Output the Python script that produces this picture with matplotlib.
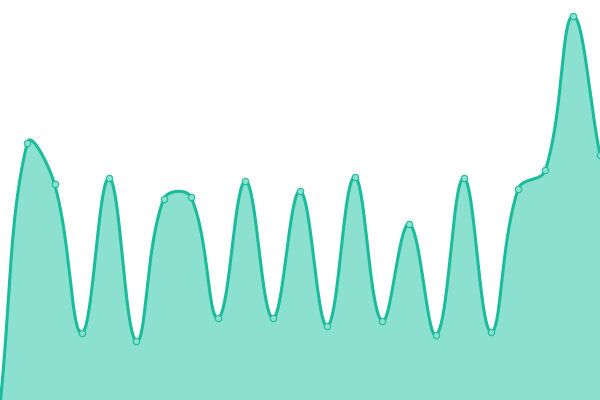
import numpy as np
import matplotlib
matplotlib.use("Agg")
import matplotlib.pyplot as plt

# Values (chart area is 400 units tall)
values = [-5, 257, 216, 67, 222, 59, 201, 203, 82, 219, 82, 209,
          74, 223, 79, 176, 65, 222, 68, 211, 230, 384, 245]
line_color = '#1abc9c'
fill_color = '#8be0cf'
tension = 0.4

W, H = 600, 400
x = np.arange(len(values))
y = np.array(values, dtype=float)

fig = plt.figure(figsize=(W / 100, H / 100), dpi=100)
ax = fig.add_axes([0, 0, 1, 1])
ax.set_xlim(0, len(values) - 1)
ax.set_ylim(0, 400)
ax.axis('off')

# spline control points worked out in pixel space (Chart.js style)
sx = W / (len(values) - 1)
px = x * sx
py = y
n = len(values)
prev_c = np.zeros((n, 2))
next_c = np.zeros((n, 2))
for i in range(n):
    p = np.array([px[max(i - 1, 0)], py[max(i - 1, 0)]])
    c = np.array([px[i], py[i]])
    nx = np.array([px[min(i + 1, n - 1)], py[min(i + 1, n - 1)]])
    d01 = np.hypot(*(c - p))
    d12 = np.hypot(*(nx - c))
    tot = d01 + d12
    s01 = d01 / tot if tot else 0
    s12 = d12 / tot if tot else 0
    fa = tension * s01
    fb = tension * s12
    prev_c[i] = c - fa * (nx - p)
    next_c[i] = c + fb * (nx - p)
prev_c[:, 0] = np.clip(prev_c[:, 0], 0, W)
next_c[:, 0] = np.clip(next_c[:, 0], 0, W)
prev_c[:, 1] = np.clip(prev_c[:, 1], -10, H)
next_c[:, 1] = np.clip(next_c[:, 1], -10, H)

t = np.linspace(0, 1, 40)[:, None]
curve = []
for i in range(n - 1):
    p0 = np.array([px[i], py[i]])
    p1 = next_c[i]
    p2 = prev_c[i + 1]
    p3 = np.array([px[i + 1], py[i + 1]])
    b = ((1 - t) ** 3) * p0 + 3 * ((1 - t) ** 2) * t * p1 + 3 * (1 - t) * t ** 2 * p2 + t ** 3 * p3
    curve.append(b if i == 0 else b[1:])
curve = np.vstack(curve)
cx = curve[:, 0] / sx
cy = curve[:, 1]

ax.fill_between(cx, 0, cy, color=fill_color, linewidth=0, zorder=1)
ax.plot(cx, cy, color=line_color, linewidth=2.2, solid_capstyle='round', zorder=2)
ax.plot(x, y, 'o', markersize=4.6, markerfacecolor=fill_color,
        markeredgecolor=line_color, markeredgewidth=0.8, zorder=3)

fig.savefig('out.png', dpi=100)
